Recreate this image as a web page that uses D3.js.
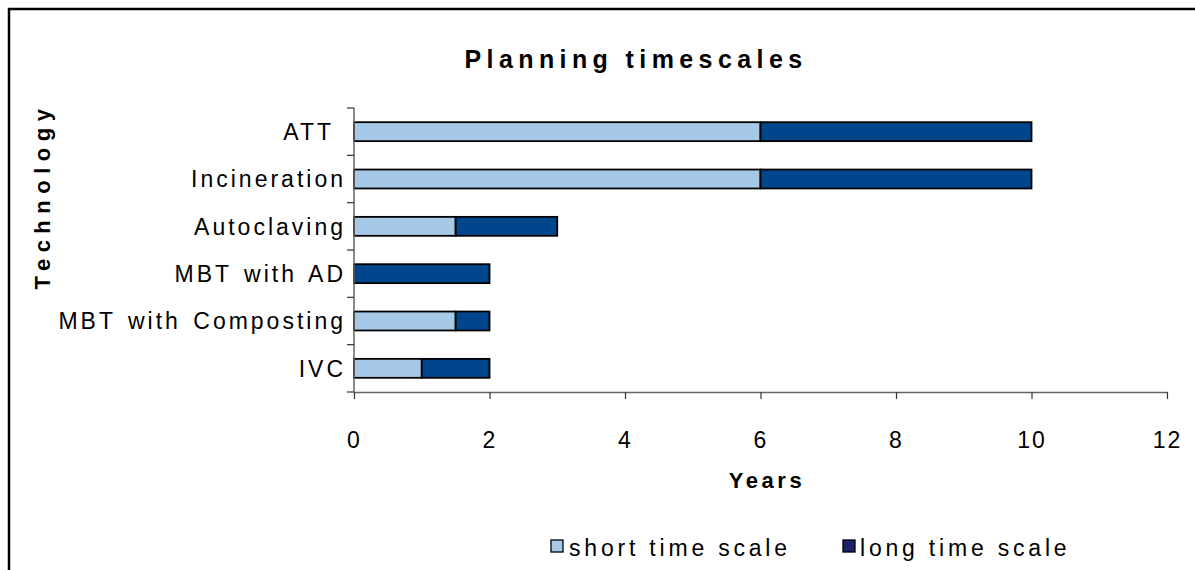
<!DOCTYPE html>
<html>
<head>
<meta charset="utf-8">
<script src="https://cdn.jsdelivr.net/npm/d3@7"></script>
<style>
  html, body { margin: 0; padding: 0; background: #fff; }
  svg { display: block; font-family: "Liberation Sans", Arial, sans-serif; }
  .cat { white-space: pre; }
</style>
</head>
<body>
<svg id="chart" width="1195" height="570"></svg>
<script>
// Planning timescales per technology (years)
const categories = ["ATT ", "Incineration", "Autoclaving", "MBT with AD", "MBT with Composting", "IVC"];
const shortScale = [6, 6, 1.5, 0, 1.5, 1];
const longScale = [4, 4, 1.5, 2, 0.5, 1];
const xTicks = [0, 2, 4, 6, 8, 10, 12];
const seriesNames = ["short time scale", "long time scale"];

const svg = d3.select("#chart");

// outer frame
svg.append("rect")
  .attr("x", 9).attr("y", 9)
  .attr("width", 1300).attr("height", 700)
  .attr("fill", "none").attr("stroke", "#000").attr("stroke-width", 2.5);

const plot = { left: 354, right: 1167, top: 108, bottom: 392 };

const x = d3.scaleLinear().domain([0, 12]).range([plot.left, plot.right]);
const y = d3.scaleBand().domain(categories).range([plot.top, plot.bottom]).paddingInner(0.6).paddingOuter(0.3);
const yTicksScale = d3.scaleBand().domain(categories).range([plot.top, plot.bottom]);

const stackData = categories.map((c, i) => ({ cat: c, short: shortScale[i], long: longScale[i] }));
const stack = d3.stack().keys(["short", "long"])(stackData);
const fills = { short: "#a6c9e8", long: "#00468c" };
const legendFills = ["#a6c9e8", "#1e2268"];

// bars
stack.forEach(layer => {
  svg.append("g").selectAll("rect")
    .data(layer.filter(d => d[1] > d[0]))
    .join("rect")
    .attr("x", d => x(d[0]))
    .attr("y", d => y(d.data.cat))
    .attr("width", d => x(d[1]) - x(d[0]))
    .attr("height", y.bandwidth())
    .attr("fill", fills[layer.key])
    .attr("stroke", "#000")
    .attr("stroke-width", 1.8);
});

// x axis
const xAxis = svg.append("g")
  .attr("transform", `translate(0,${plot.bottom})`)
  .call(d3.axisBottom(x).tickValues(xTicks).tickSize(7).tickSizeOuter(0).tickPadding(33));
xAxis.select(".domain").attr("stroke", "#666").attr("stroke-width", 1.5);
xAxis.selectAll(".tick line").attr("stroke", "#333").attr("stroke-width", 1.2);
xAxis.selectAll(".tick text")
  .attr("font-size", 23).attr("fill", "#000")
  .attr("letter-spacing", "2px")
  .attr("font-family", "Liberation Sans, Arial, sans-serif");

// y axis line and tick marks at category boundaries
const yAxis = svg.append("g");
yAxis.append("line")
  .attr("x1", plot.left).attr("x2", plot.left)
  .attr("y1", plot.top).attr("y2", plot.bottom)
  .attr("stroke", "#666").attr("stroke-width", 1.5);
const boundaries = categories.map(c => yTicksScale(c)).concat([plot.bottom]);
yAxis.selectAll("line.tk").data(boundaries).join("line")
  .attr("class", "tk")
  .attr("x1", plot.left - 7).attr("x2", plot.left)
  .attr("y1", d => d).attr("y2", d => d)
  .attr("stroke", "#333").attr("stroke-width", 1.2);
yAxis.selectAll("text").data(categories).join("text")
  .attr("class", "cat")
  .attr("x", plot.left - 8)
  .attr("y", d => y(d) + y.bandwidth() / 2)
  .attr("dy", "0.36em")
  .attr("text-anchor", "end")
  .attr("font-size", 23)
  .attr("letter-spacing", "3px")
  .attr("word-spacing", "3px")
  .attr("fill", "#000")
  .text(d => d);

// title
svg.append("text")
  .attr("x", 636).attr("y", 68)
  .attr("text-anchor", "middle")
  .attr("font-size", 25).attr("font-weight", "bold")
  .attr("letter-spacing", "5.4px")
  .text("Planning timescales");

// axis titles
svg.append("text")
  .attr("x", 767).attr("y", 488)
  .attr("text-anchor", "middle")
  .attr("font-size", 22).attr("font-weight", "bold")
  .attr("letter-spacing", "3.6px")
  .text("Years");

svg.append("text")
  .attr("transform", "translate(50,196) rotate(-90)")
  .attr("text-anchor", "middle")
  .attr("font-size", 22).attr("font-weight", "bold")
  .attr("letter-spacing", "6.5px")
  .text("Technology");

// legend
const legendX = [551, 843];
const legend = svg.append("g");
seriesNames.forEach((name, i) => {
  legend.append("rect")
    .attr("x", legendX[i]).attr("y", 540)
    .attr("width", 12).attr("height", 12)
    .attr("fill", legendFills[i])
    .attr("stroke", "#000").attr("stroke-width", 1.3);
  legend.append("text")
    .attr("x", legendX[i] + (i === 0 ? 18 : 17)).attr("y", 556)
    .attr("font-size", 23)
    .attr("letter-spacing", "3.8px")
    .text(name);
});
</script>
</body>
</html>
